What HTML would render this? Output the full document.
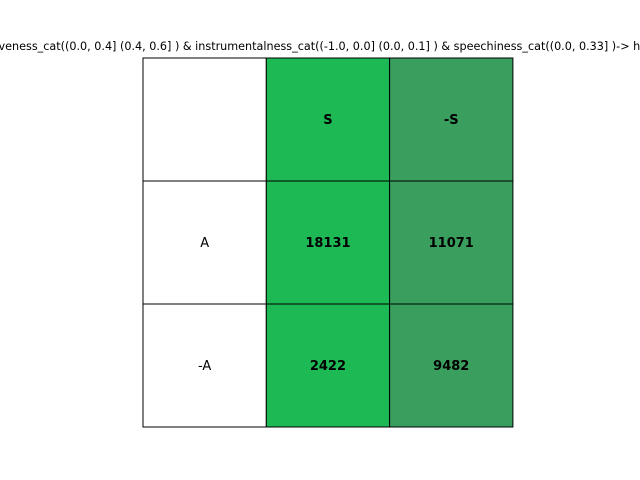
<!DOCTYPE html>
<html><head><meta charset="utf-8"><style>body{margin:0;background:#fff}svg{display:block}</style></head>
<body>
<svg width="640" height="480" font-family="'DejaVu Sans', 'Liberation Sans', sans-serif">
<text x="320" y="50" text-anchor="middle" font-size="11.2">liveness_cat((0.0, 0.4] (0.4, 0.6] ) &amp; instrumentalness_cat((-1.0, 0.0] (0.0, 0.1] ) &amp; speechiness_cat((0.0, 0.33] )-&gt; hit</text>
<g id="grid"></g>
</svg>
<script>
const colLabels = ["S", "-S"];
const rowLabels = ["A", "-A"];
const values = [[18131, 11071], [2422, 9482]];
const colColors = ["#1DB954", "#3A9F5E"];
const x0 = 143, y0 = 58, cw = 123.3, ch = 123;
const g = document.getElementById('grid');
const NS = 'http://www.w3.org/2000/svg';
function cell(r, c, fill, label, bold, name) {
  const rect = document.createElementNS(NS, 'rect');
  rect.setAttribute('x', x0 + c * cw); rect.setAttribute('y', y0 + r * ch);
  rect.setAttribute('width', cw); rect.setAttribute('height', ch);
  rect.setAttribute('fill', fill); rect.setAttribute('stroke', '#000'); rect.setAttribute('stroke-width', '1');
  
  
  g.appendChild(rect);
  if (label !== '') {
    const t = document.createElementNS(NS, 'text');
    t.setAttribute('x', x0 + c * cw + cw / 2); t.setAttribute('y', y0 + r * ch + ch / 2 + 4.5);
    t.setAttribute('text-anchor', 'middle'); t.setAttribute('font-size', '13');
    if (bold) t.setAttribute('font-weight', 'bold');
    t.textContent = label;
    
    
    g.appendChild(t);
  }
}
cell(0, 0, '#fff', '', false, 'corner-cell');
colLabels.forEach((l, c) => cell(0, c + 1, colColors[c], l, true, 'col-header-' + c));
rowLabels.forEach((l, r) => {
  cell(r + 1, 0, '#fff', l, false, 'row-header-' + r);
  values[r].forEach((v, c) => cell(r + 1, c + 1, colColors[c], String(v), true, 'value-cell-' + r + '-' + c));
});
</script>
</body></html>
